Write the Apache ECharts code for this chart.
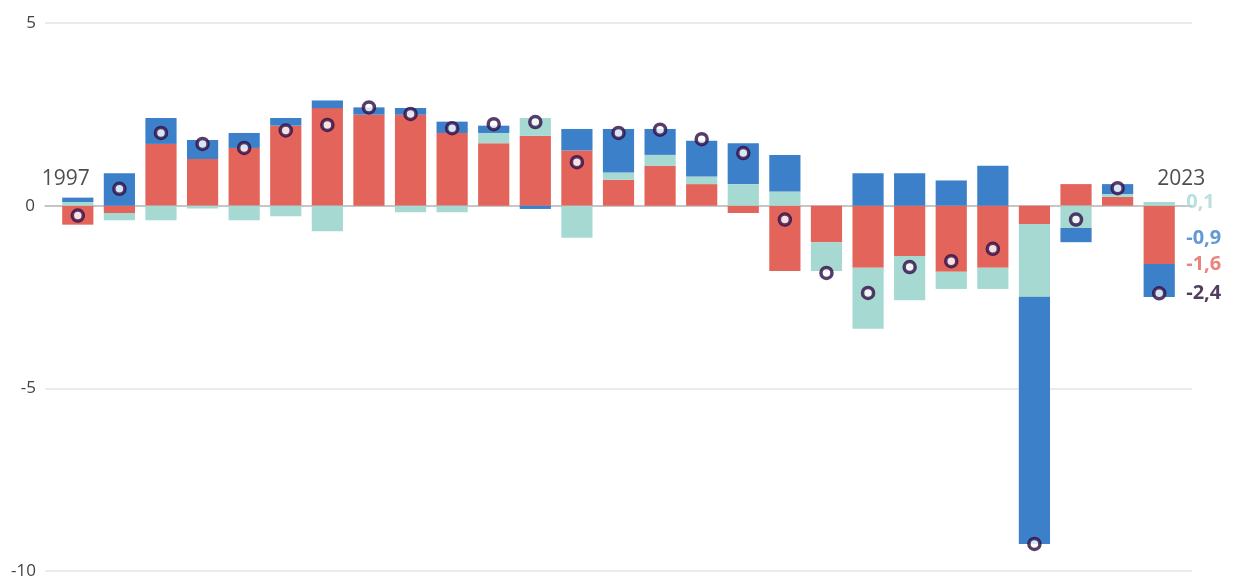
<!DOCTYPE html>
<html>
<head>
<meta charset="utf-8">
<script src="https://cdn.jsdelivr.net/npm/echarts@6/dist/echarts.min.js"></script>
<style>
  html, body { margin: 0; padding: 0; background: #ffffff; }
  #chart { width: 1243px; height: 583px; }
</style>
</head>
<body>
<div id="chart"></div>
<script>
// Yearly contributions (percentage points), stacked per year
const years = ['1997','1998','1999','2000','2001','2002','2003','2004','2005','2006','2007','2008','2009',
  '2010','2011','2012','2013','2014','2015','2016','2017','2018','2019','2020','2021','2022','2023'];

const redPart = [-0.52, -0.20, 1.69, 1.28, 1.58, 2.19, 2.67, 2.49, 2.49, 1.99, 1.71, 1.91, 1.51,
  0.71, 1.09, 0.59, -0.20, -1.79, -1.00, -1.70, -1.38, -1.81, -1.70, -0.50, 0.59, 0.24, -1.6];

const tealPart = [0.10, -0.20, -0.40, -0.08, -0.40, -0.29, -0.70, 0.00, -0.18, -0.18, 0.28, 0.49, -0.88,
  0.20, 0.30, 0.21, 0.59, 0.39, -0.79, -1.67, -1.21, -0.47, -0.58, -1.99, -0.61, 0.08, 0.1];

const bluePart = [0.12, 0.89, 0.71, 0.52, 0.41, 0.21, 0.21, 0.20, 0.18, 0.31, 0.20, -0.09, 0.59,
  1.19, 0.71, 0.98, 1.12, 1.00, 0.00, 0.89, 0.89, 0.69, 1.09, -6.77, -0.39, 0.27, -0.9];

const totals = [-0.27, 0.46, 1.99, 1.69, 1.58, 2.06, 2.21, 2.69, 2.51, 2.12, 2.23, 2.29, 1.19,
  1.99, 2.08, 1.82, 1.44, -0.38, -1.84, -2.39, -1.68, -1.52, -1.18, -9.26, -0.38, 0.48, -2.4];

const yTicks = [5, 0, -5, -10];

// Final-year figures shown at the right edge: teal, blue, red, total
const lastYearFigures = [0.1, -0.9, -1.6, -2.4];

const C_RED = '#e3645a';
const C_BLUE = '#3b80c9';
const C_TEAL = '#a6d9d2';
const C_DOT = '#2e0b44';
const FIG_COLORS = ['#a6dad4', C_BLUE, C_RED, '#260c36'];
const FONT = "'Segoe UI', 'Open Sans', 'Noto Sans', sans-serif";

const fmt = v => v.toFixed(1).replace('.', ',');

const chart = echarts.init(document.getElementById('chart'), null, { renderer: 'canvas' });

const lastIdx = years.length - 1;

chart.setOption({
  animation: false,
  backgroundColor: '#ffffff',
  grid: [
    // grid lines and y labels
    { left: 45, right: 51, top: 23, bottom: 12 },
    // bars
    { left: 57, right: 63, top: 23, bottom: 12 }
  ],
  xAxis: [
    {
      gridIndex: 0, type: 'value', min: 0, max: 1,
      axisLine: { show: true, onZero: true, lineStyle: { color: '#bbbbbb', width: 1.5 } },
      axisTick: { show: false }, axisLabel: { show: false }, splitLine: { show: false }
    },
    {
      gridIndex: 1, type: 'category', data: years,
      axisLine: { show: false }, axisTick: { show: false }, axisLabel: { show: false }
    }
  ],
  yAxis: [
    {
      gridIndex: 0, type: 'value', min: -10, max: 5, interval: 5,
      axisLine: { show: false }, axisTick: { show: false },
      axisLabel: {
        color: '#444', fontSize: 17, fontFamily: FONT, margin: 9,
        formatter: v => (yTicks.includes(v) && v !== 0) ? String(v) : ''
      },
      splitLine: { lineStyle: { color: '#e4e4e4', width: 1.5 } }
    },
    {
      // carries the "0" tick label
      gridIndex: 1, type: 'value', min: -10, max: 5, interval: 5,
      axisLine: { show: false }, axisTick: { show: false },
      axisLabel: {
        color: '#444', fontSize: 17, fontFamily: FONT, margin: 22,
        formatter: v => v === 0 ? '0' : ''
      },
      splitLine: { show: false }
    }
  ],
  series: [
    {
      name: 'red', type: 'bar', stack: 'total', xAxisIndex: 1, yAxisIndex: 1,
      barCategoryGap: '25%', data: redPart, itemStyle: { color: C_RED }
    },
    {
      name: 'teal', type: 'bar', stack: 'total', xAxisIndex: 1, yAxisIndex: 1,
      data: tealPart, itemStyle: { color: C_TEAL }
    },
    {
      name: 'blue', type: 'bar', stack: 'total', xAxisIndex: 1, yAxisIndex: 1,
      data: bluePart, itemStyle: { color: C_BLUE }
    },
    {
      name: 'total', type: 'scatter', xAxisIndex: 1, yAxisIndex: 1, z: 5,
      symbol: 'circle', symbolSize: 11,
      itemStyle: { color: '#ffffff', borderColor: C_DOT, borderWidth: 3.5 },
      data: totals.map((v, i) => [i, v])
    },
    {
      // first and last year tags
      name: 'years', type: 'scatter', xAxisIndex: 1, yAxisIndex: 1, z: 6,
      symbolSize: 0, silent: true,
      label: {
        show: true, position: 'top', distance: 16, color: '#222',
        fontSize: 21, fontFamily: FONT, formatter: p => years[p.value[0]]
      },
      data: [
        { value: [0, 0], label: { offset: [-12, 0] } },
        { value: [lastIdx, 0], label: { offset: [22, 0] } }
      ]
    },
    {
      // final-year figures
      name: 'figures', type: 'scatter', xAxisIndex: 1, yAxisIndex: 1, z: 6,
      symbolSize: 0, silent: true,
      label: {
        show: true, position: 'right', distance: 27, fontSize: 20, fontWeight: 'bold',
        fontFamily: FONT, formatter: p => fmt(p.value[1])
      },
      data: lastYearFigures.map((v, k) => ({
        value: [lastIdx, v], label: { color: FIG_COLORS[k] }
      }))
    }
  ]
});
</script>
</body>
</html>
